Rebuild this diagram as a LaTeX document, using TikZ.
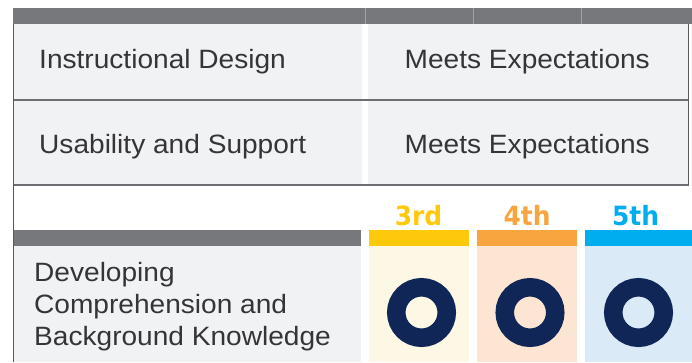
\documentclass[tikz,border=0pt]{standalone}
\usepackage{fontspec}
\setmainfont{Liberation Sans}[FakeStretch=1.06]
\newfontfamily\labelfont{DejaVu Sans}[FakeStretch=0.94]
\definecolor{barGray}{HTML}{77787B}
\definecolor{cellGray}{HTML}{F1F2F4}
\definecolor{sepGray}{HTML}{6D6E71}
\definecolor{edgeGray}{HTML}{58595B}
\definecolor{thinGray}{HTML}{A2A3A6}
\definecolor{txt}{HTML}{353537}
\definecolor{yel}{HTML}{FFC90B}
\definecolor{ora}{HTML}{F8A540}
\definecolor{blu}{HTML}{00AEEF}
\definecolor{yelL}{HTML}{FDF7E6}
\definecolor{oraL}{HTML}{FDE5D4}
\definecolor{bluL}{HTML}{DAEAF7}
\definecolor{navy}{HTML}{0F2657}
\begin{document}
\begin{tikzpicture}[x=1pt,y=-1pt,
  rowtext/.style={anchor=base west,inner sep=0pt,text=txt,font=\fontsize{26.5}{32}\selectfont},
  gradelabel/.style={anchor=base,inner sep=0pt,font=\labelfont\bfseries\fontsize{26.5}{30}\selectfont},
  ring/.style={draw=navy,line width=18.5pt,circle,minimum size=50.5pt,inner sep=0pt},
  sep/.style={draw=sepGray,line width=1.2pt},
  edge/.style={draw=edgeGray,line width=1.2pt}]
\useasboundingbox (0,0) rectangle (692,362);
\fill[white] (0,0) rectangle (692,362);
% top bar
\fill[barGray] (13,8) rectangle (692,24);
\draw[thinGray,line width=0.7pt] (365.5,8) -- (365.5,24) (473,8) -- (473,24) (581,8) -- (581,24);
% rows 1-2
\fill[cellGray] (13,24) rectangle (362,185);
\fill[cellGray] (368,24) rectangle (689,185);
\coordinate (s1l) at (13,100); \coordinate (s1r) at (689,100);
\coordinate (s2l) at (13,185); \coordinate (s2r) at (689,185);
\draw[sep] (s1l) -- (s1r);
\draw[sep] (s2l) -- (s2r);
% row 3
\fill[barGray] (13,230) rectangle (361,246);
\fill[cellGray] (13,246) rectangle (361,362);
\fill[yel] (369,230) rectangle (469,246);
\fill[yelL] (369,246) rectangle (469,362);
\fill[ora] (477,230) rectangle (577,246);
\fill[oraL] (477,246) rectangle (577,362);
\fill[blu] (585,230) rectangle (692,246);
\fill[bluL] (585,246) rectangle (692,362);
% borders
\coordinate (bl1) at (13.6,24); \coordinate (bl2) at (13.6,362);
\coordinate (br1) at (688.8,24); \coordinate (br2) at (688.8,185);
\draw[edge] (bl1) -- (bl2);
\draw[edge] (br1) -- (br2);
% texts
\node[rowtext] (id) at (39,68.3) {Instructional Design};
\node[rowtext] (me1) at (404.5,68.3) {Meets Expectations};
\node[rowtext] (us) at (39,153) {Usability and Support};
\node[rowtext] (me2) at (404.5,153) {Meets Expectations};
\node[rowtext] (dv1) at (34,281.7) {Developing};
\node[rowtext] (dv2) at (34,313.6) {Comprehension and};
\node[rowtext] (dv3) at (34,345.6) {Background Knowledge};
% grade labels
\node[gradelabel,text=yel] (g3) at (418.5,225) {3rd};
\node[gradelabel,text=ora] (g4) at (527,225) {4th};
\node[gradelabel,text=blu] (g5) at (635.5,225) {5th};
% rings
\node[ring] (r3) at (421.5,312.5) {};
\node[ring] (r4) at (530,312.5) {};
\node[ring] (r5) at (638.5,312.5) {};
\end{tikzpicture}
\end{document}
